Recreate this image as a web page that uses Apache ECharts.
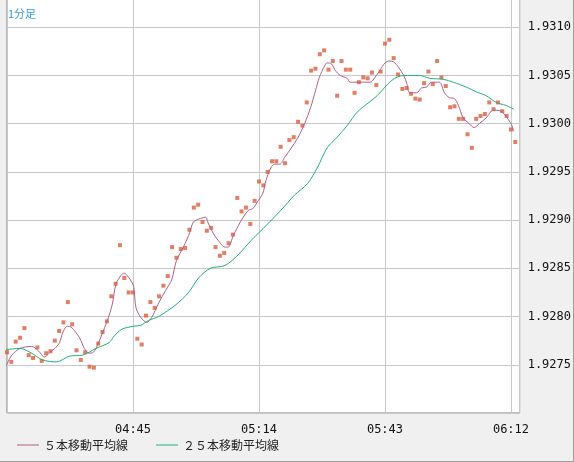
<!DOCTYPE html>
<html>
<head>
<meta charset="utf-8">
<script src="https://cdn.jsdelivr.net/npm/echarts@6/dist/echarts.min.js"></script>
<style>
  html, body { margin: 0; padding: 0; background: #f0f0f0; overflow: hidden; }
  #wrap { position: relative; width: 574px; height: 462px; overflow: hidden; box-sizing: border-box; border-right: 1px solid #a0a0a0; border-bottom: 1px solid #a0a0a0; }
  #chart { position: absolute; left: 0; top: -21px; width: 574px; height: 483px; }
</style>
</head>
<body>
<div id="wrap"><div id="chart"></div></div>
<script>
// 1分足 04:16 から 1分毎の終値
const startMinute = 4 * 60 + 16
const closes = [
  1.92763, 1.92753, 1.92774, 1.92778, 1.92788, 1.92760, 1.92757, 1.92768, 1.92754, 1.92762,
  1.92764, 1.92775, 1.92785, 1.92794, 1.92815, 1.92792, 1.92765, 1.92755, 1.92763, 1.92748,
  1.92747, 1.92772, 1.92784, 1.92795, 1.92821, 1.92834, 1.92874, 1.92840, 1.92825, 1.92825,
  1.92777, 1.92771, 1.92801, 1.92815, 1.92809, 1.92821, 1.92832, 1.92842, 1.92872, 1.92861,
  1.92870, 1.92871, 1.92890, 1.92913, 1.92916, 1.92898, 1.92889, 1.92892, 1.92872, 1.92863,
  1.92866, 1.92876, 1.92885, 1.92923, 1.92909, 1.92913, 1.92896, 1.92920, 1.92940, 1.92936,
  1.92950, 1.92961, 1.92961, 1.92976, 1.92959, 1.92983, 1.92986, 1.93002, 1.92998, 1.93022,
  1.93055, 1.93057, 1.93072, 1.93076, 1.93056, 1.93065, 1.93029, 1.93065, 1.93056, 1.93056,
  1.93032, 1.93043, 1.93048, 1.93047, 1.93053, 1.93040, 1.93054, 1.93083, 1.93087, 1.93068,
  1.93051, 1.93036, 1.93037, 1.93031, 1.93026, 1.93025, 1.93042, 1.93054, 1.93041, 1.93065,
  1.93048, 1.93039, 1.93017, 1.93018, 1.93005, 1.93005, 1.92989, 1.92975, 1.93005, 1.93008,
  1.93010, 1.93022, 1.93015, 1.93022, 1.93013, 1.93008, 1.92994, 1.92981
]
// 移動平均線 [分, 値]
const ma5 = [
  [-1.6, 1.92739], [0, 1.92751], [1.1, 1.92760], [3.0, 1.92767], [5.7, 1.92769], [7.1, 1.92765],
  [8.7, 1.92758], [9.8, 1.92763], [11.0, 1.92767], [12.1, 1.92773], [12.8, 1.92783], [13.9, 1.92790],
  [14.8, 1.92789], [16.7, 1.92778], [17.8, 1.92767], [18.9, 1.92762], [19.9, 1.92763], [20.8, 1.92770],
  [21.9, 1.92782], [23.1, 1.92796], [24.2, 1.92812], [25.1, 1.92834], [26.3, 1.92843], [26.9, 1.92845],
  [27.6, 1.92843], [28.8, 1.92835], [29.2, 1.92830], [29.7, 1.92809], [30.8, 1.92799], [32.2, 1.92794],
  [33.3, 1.92799], [34.9, 1.92814], [36.5, 1.92827], [37.9, 1.92838], [39.0, 1.92858], [40.6, 1.92872],
  [41.8, 1.92884], [42.9, 1.92898], [44.1, 1.92901], [45.7, 1.92903], [46.3, 1.92897], [47.5, 1.92886],
  [48.6, 1.92879], [50.2, 1.92872], [50.9, 1.92872], [52.1, 1.92884], [53.7, 1.92898], [55.5, 1.92910],
  [56.6, 1.92912], [57.8, 1.92920], [58.9, 1.92928], [59.6, 1.92941], [60.7, 1.92954], [61.6, 1.92958],
  [62.8, 1.92958], [63.9, 1.92965], [65.3, 1.92974], [66.9, 1.92985], [68.5, 1.93000], [69.9, 1.93017],
  [71.0, 1.93034], [71.9, 1.93048], [73.1, 1.93060], [73.7, 1.93063], [74.7, 1.93062], [75.6, 1.93055],
  [76.7, 1.93050], [78.3, 1.93047], [79.0, 1.93043], [81.3, 1.93043], [83.6, 1.93043], [84.7, 1.93048],
  [85.8, 1.93055], [87.0, 1.93063], [87.9, 1.93065], [89.0, 1.93064], [90.2, 1.93058], [91.3, 1.93050],
  [92.0, 1.93042], [92.7, 1.93032], [94.3, 1.93032], [95.4, 1.93037], [96.6, 1.93038], [97.7, 1.93043],
  [99.5, 1.93043], [100.7, 1.93032], [101.8, 1.93027], [103.0, 1.93026], [103.9, 1.93019], [105.0, 1.93006],
  [106.4, 1.93000], [107.5, 1.92996], [108.7, 1.93000], [110.3, 1.93006], [111.9, 1.93014], [113.7, 1.93013],
  [114.8, 1.93008], [116.0, 1.93000], [116.7, 1.92992]
]
const ma25 = [
  [-1.6, 1.92768], [0, 1.92766], [3.0, 1.92767], [5.3, 1.92763], [8.2, 1.92755], [11.4, 1.92753],
  [14.4, 1.92759], [17.4, 1.92760], [20.5, 1.92767], [23.5, 1.92773], [24.7, 1.92780], [26.5, 1.92787],
  [29.2, 1.92790], [30.8, 1.92791], [32.6, 1.92796], [34.9, 1.92800], [38.8, 1.92812], [41.8, 1.92825],
  [44.1, 1.92840], [46.8, 1.92850], [50.2, 1.92853], [53.2, 1.92864], [56.2, 1.92879], [58.9, 1.92891],
  [63.0, 1.92910], [66.2, 1.92926], [69.2, 1.92938], [71.5, 1.92955], [73.7, 1.92975], [76.0, 1.92986],
  [78.3, 1.92998], [80.6, 1.93012], [83.3, 1.93022], [85.2, 1.93029], [88.6, 1.93045], [91.3, 1.93050],
  [95.0, 1.93050], [97.3, 1.93047], [100.5, 1.93046], [102.7, 1.93043], [105.7, 1.93038], [108.0, 1.93033],
  [110.3, 1.93029], [112.6, 1.93022], [114.8, 1.93019], [116.7, 1.93015]
]
const seriesNames = ['５本移動平均線', '２５本移動平均線']

const fmtTime = v => {
  const m = startMinute + v
  return String(Math.floor(m / 60)).padStart(2, '0') + ':' + String(m % 60).padStart(2, '0')
}

const chart = echarts.init(document.getElementById('chart'))
chart.setOption({
  animation: false,
  backgroundColor: '#f0f0f0',
  textStyle: { fontFamily: 'DejaVu Sans Mono' },
  title: {
    text: '1分足', left: 3, top: 24,
    textStyle: { fontSize: 11, fontWeight: 'normal', color: '#3399ee', fontFamily: 'Noto Sans CJK JP' }
  },
  legend: {
    left: 12, bottom: 6, itemGap: 28, itemWidth: 22, itemHeight: 8,
    icon: 'path://M0,4L22,4L22,5L0,5Z',
    data: seriesNames,
    textStyle: { fontSize: 12, color: '#222', fontFamily: 'Noto Sans CJK JP' }
  },
  grid: {
    left: 7, right: 51, top: 0, bottom: 49,
    show: true, backgroundColor: '#fff', borderColor: '#808080', borderWidth: 1
  },
  xAxis: {
    type: 'value', min: 0, max: 118, interval: 29,
    axisLine: { show: false }, axisTick: { show: false },
    splitLine: { lineStyle: { color: '#c8c8c8' } },
    axisLabel: {
      color: '#111', fontSize: 12, margin: 11,
      showMinLabel: false, showMaxLabel: false,
      formatter: v => (v === 0 ? '' : fmtTime(v))
    }
  },
  yAxis: {
    type: 'value', position: 'right', min: 1.9270, max: 1.9315, interval: 0.0005,
    axisLine: { show: false }, axisTick: { show: false },
    splitLine: { lineStyle: { color: '#c8c8c8' } },
    axisLabel: {
      color: '#111', fontSize: 12, margin: 8,
      showMinLabel: false, showMaxLabel: false,
      formatter: v => v.toFixed(4)
    }
  },
  series: [
    {
      type: 'scatter', symbol: 'rect', symbolSize: 4, silent: true,
      itemStyle: { color: '#d9603f' },
      data: closes.map((c, i) => [i, c])
    },
    {
      name: seriesNames[0], type: 'line', smooth: 0.3, showSymbol: false, clip: true,
      lineStyle: { color: '#b06088', width: 1 }, itemStyle: { color: '#b06088' },
      data: ma5
    },
    {
      name: seriesNames[1], type: 'line', smooth: 0.3, showSymbol: false, clip: true,
      lineStyle: { color: '#22b07a', width: 1 }, itemStyle: { color: '#22b07a' },
      data: ma25
    }
  ]
})
</script>
</body>
</html>
